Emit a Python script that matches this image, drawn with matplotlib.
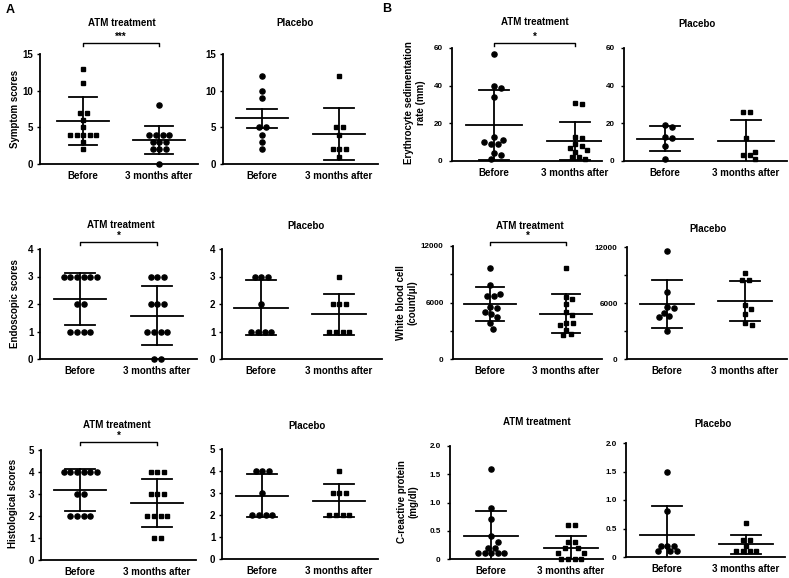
"""ATM treatment vs placebo: clinical scores (A) and lab values (B), Prism-style scatter."""
import math

import matplotlib

matplotlib.use("Agg")
import matplotlib.pyplot as plt  # noqa: E402

W, H = 789, 578
GROUPS = ["Before", "3 months after"]

# --- values -------------------------------------------------------------
SYMPTOM_ATM_BEFORE = [13, 11, 7, 7, 6, 5, 4, 4, 4, 4, 4, 3, 2]
SYMPTOM_ATM_AFTER = [8, 4, 4, 4, 4, 3, 3, 3, 2, 2, 2, 0]
SYMPTOM_ATM_MEAN = [5.86, 3.29]
SYMPTOM_ATM_ERR = [3.30, 1.94]
SYMPTOM_PLA_BEFORE = [12, 10, 9, 5, 5, 4, 3, 2]
SYMPTOM_PLA_AFTER = [12, 5, 5, 4, 2, 2, 2, 1]
SYMPTOM_PLA_MEAN = [6.23, 4.10]
SYMPTOM_PLA_ERR = [1.30, 3.50]

ENDO_ATM_BEFORE = [3, 3, 3, 3, 3, 3, 2, 2, 1, 1, 1, 1]
ENDO_ATM_AFTER = [3, 3, 3, 2, 2, 2, 1, 1, 1, 1, 0, 0]
ENDO_ATM_MEAN = [2.17, 1.58]
ENDO_ATM_ERR = [0.94, 1.07]
ENDO_PLA_BEFORE = [3, 3, 3, 2, 1, 1, 1, 1]
ENDO_PLA_AFTER = [3, 2, 2, 2, 1, 1, 1, 1]
ENDO_PLA_MEAN = [1.87, 1.62]
ENDO_PLA_ERR = [0.99, 0.75]

HISTO_ATM_BEFORE = [4, 4, 4, 4, 4, 4, 3, 3, 2, 2, 2, 2]
HISTO_ATM_AFTER = [4, 4, 4, 3, 3, 3, 2, 2, 2, 2, 1, 1]
HISTO_ATM_MEAN = [3.18, 2.58]
HISTO_ATM_ERR = [0.94, 1.08]
HISTO_PLA_BEFORE = [4, 4, 4, 3, 2, 2, 2, 2]
HISTO_PLA_AFTER = [4, 3, 3, 3, 2, 2, 2, 2]
HISTO_PLA_MEAN = [2.88, 2.64]
HISTO_PLA_ERR = [0.98, 0.75]

ESR_ATM_BEFORE = [57, 40, 39, 34, 13, 11, 10, 9, 9, 4, 3, 1]
ESR_ATM_AFTER = [31, 30, 13, 12, 9, 8, 7, 6, 5, 2, 2, 1]
ESR_ATM_MEAN = [19.1, 10.6]
ESR_ATM_ERR = [18.5, 10.0]
ESR_PLA_BEFORE = [19, 18, 13, 12, 8, 1]
ESR_PLA_AFTER = [26, 26, 12, 5, 3, 3, 1]
ESR_PLA_MEAN = [11.9, 10.8]
ESR_PLA_ERR = [6.7, 11.2]

WBC_ATM_BEFORE = [9700, 7900, 6900, 6700, 6700, 5490, 5380, 5030, 4780, 4500, 3790, 3190]
WBC_ATM_AFTER = [9700, 6550, 6340, 5840, 5030, 4670, 3860, 3790, 3600, 3080, 2650, 2510]
WBC_ATM_MEAN = [5876, 4810]
WBC_ATM_ERR = [1820, 2055]
WBC_PLA_BEFORE = [11600, 7200, 5540, 5430, 4970, 4620, 4470, 3050]
WBC_PLA_AFTER = [9230, 8450, 8450, 5790, 5400, 4830, 3830, 3660]
WBC_PLA_MEAN = [5860, 6210]
WBC_PLA_ERR = [2590, 2185]

CRP_ATM_BEFORE = [1.6, 0.9, 0.7, 0.4, 0.3, 0.2, 0.2, 0.1, 0.1, 0.1, 0.1, 0.1]
CRP_ATM_AFTER = [0.6, 0.6, 0.3, 0.3, 0.2, 0.2, 0.1, 0.1, 0, 0, 0, 0]
CRP_ATM_MEAN = [0.40, 0.20]
CRP_ATM_ERR = [0.45, 0.21]
CRP_PLA_BEFORE = [1.5, 0.8, 0.2, 0.2, 0.2, 0.1, 0.1, 0.1]
CRP_PLA_AFTER = [0.6, 0.3, 0.3, 0.2, 0.1, 0.1, 0.1, 0.1]
CRP_PLA_MEAN = [0.39, 0.22]
CRP_PLA_ERR = [0.50, 0.17]

# y ticks per measure
SYMPTOM_TICKS = [0, 5, 10, 15]
ENDO_TICKS = [0, 1, 2, 3, 4]
HISTO_TICKS = [0, 1, 2, 3, 4, 5]
ESR_TICKS = [0, 20, 40, 60]
WBC_TICKS = [0, 6000, 12000]
WBC_MINOR = [3000, 9000]
CRP_TICKS = [0, 0.5, 1.0, 1.5, 2.0]
CRP_TICKLABELS = ["0", "0.5", "1.0", "1.5", "2.0"]

# Pixel geometry of each panel: left, x(Before), x(after), right, top, bottom
LAYOUT = {
    "sym_atm": (40, 83, 159, 198, 54, 164),
    "sym_pla": (223, 262, 339, 378, 54, 164),
    "endo_atm": (40, 80, 157, 197, 249, 359),
    "endo_pla": (222, 261, 339, 382, 249, 359),
    "histo_atm": (41, 80, 157, 196, 450, 560),
    "histo_pla": (222, 262, 339, 378, 449, 559),
    "esr_atm": (452, 494, 575, 602, 48, 161),
    "esr_pla": (624, 665, 746, 787, 48, 161),
    "wbc_atm": (453, 490, 566, 602, 246, 359),
    "wbc_pla": (627, 667, 745, 787, 247, 359),
    "crp_atm": (450, 491, 571, 603, 446, 559),
    "crp_pla": (626, 667, 746, 785, 443, 557),
}

LW = 1.3
MEAN_HW = 0.34   # half width of mean bar (category units)
CAP_HW = 0.19    # half width of SD caps
GAP = 6.3        # min centre distance between markers, px


def fxy(x, y):
    return x / W, 1 - y / H


def swarm(values, px_per_unit, gap=GAP):
    """Pixel x-offsets: ties mirrored around the centre, Prism-like."""
    uniq = sorted(set(values), key=lambda v: (-values.count(v), -v))
    placed, out = [], [0.0] * len(values)
    grid = [i * 0.5 for i in range(0, 200)]

    def free(x, y):
        return all(math.hypot(x - px, y - py) >= gap for px, py in placed)

    for v in uniq:
        idx = [i for i, w in enumerate(values) if w == v]
        y = v * px_per_unit
        xs = []
        if len(idx) % 2:
            for g in grid:
                x = next((c for c in (g, -g) if free(c, y)), None)
                if x is not None:
                    break
            xs.append(x)
            placed.append((x, y))
        while len(xs) < len(idx):
            for g in grid:
                if 2 * g >= gap and free(g, y) and free(-g, y):
                    break
            xs += [-g, g]
            placed += [(-g, y), (g, y)]
        for i, x in zip(idx, xs):
            out[i] = x
    return out


def panel(fig, key, before, after, mean, err, markers, ticks, tick_fs, tick_pad,
          ticklabels=None, minor=None):
    left, xb, xa, right, top, bottom = LAYOUT[key]
    unit = xa - xb
    ax = fig.add_axes([left / W, 1 - bottom / H, (right - left) / W, (bottom - top) / H])
    ymax = ticks[-1]
    ax.set_xlim((left - xb) / unit, (right - xb) / unit)
    ax.set_ylim(0, ymax)
    ypx = (bottom - top) / ymax

    for pos, vals, mk in zip((0, 1), (before, after), markers):
        offs = swarm(vals, ypx)
        ax.plot([pos + o / unit for o in offs], vals, ls="none", marker=mk,
                ms=3.7 if mk == "o" else 3.4, color="black", mec="black",
                clip_on=False, zorder=3)
    for pos, m, e in zip((0, 1), mean, err):
        ax.plot([pos - MEAN_HW, pos + MEAN_HW], [m, m], color="black", lw=LW, zorder=4)
        ax.plot([pos, pos], [m - e, m + e], color="black", lw=LW, zorder=4)
        for c in (m - e, m + e):
            ax.plot([pos - CAP_HW, pos + CAP_HW], [c, c], color="black", lw=LW, zorder=4)

    for side in ("top", "right"):
        ax.spines[side].set_visible(False)
    for side in ("left", "bottom"):
        ax.spines[side].set_linewidth(LW)
    ax.set_xticks([0, 1], GROUPS, fontsize=7, fontweight="bold")
    ax.tick_params(axis="x", length=0, pad=5)
    ax.set_yticks(ticks, ticklabels if ticklabels else [f"{t:g}" for t in ticks],
                  fontsize=tick_fs, fontweight="bold")
    if minor:
        ax.set_yticks(minor, minor=True)
    ax.tick_params(axis="y", which="both", length=2.2, width=1.0, pad=tick_pad)
    ax.patch.set_alpha(0)
    return ax


def bracket(ax, key, y_px, stars):
    """Significance bracket between the two groups, y given in figure pixels."""
    _, _, _, _, top, bottom = LAYOUT[key]
    h = bottom - top
    yf = (bottom - y_px) / h
    tr = ax.get_xaxis_transform()
    ax.plot([0, 0, 1, 1], [yf - 3 / h, yf, yf, yf - 3 / h], color="black", lw=1.0,
            transform=tr, clip_on=False)
    ax.text(0.5, yf + 1 / h, stars, transform=tr, ha="center", va="bottom",
            fontsize=7, fontweight="bold")


def main():
    plt.rcParams.update({
        "font.family": ["Liberation Sans", "DejaVu Sans"],
        "font.weight": "bold",
    })
    fig = plt.figure(figsize=(W / 100, H / 100), dpi=100)

    a_tick, a_pad = 7, 2.5
    b_tick, b_pad = 5.8, 4.5

    ax = panel(fig, "sym_atm", SYMPTOM_ATM_BEFORE, SYMPTOM_ATM_AFTER, SYMPTOM_ATM_MEAN,
               SYMPTOM_ATM_ERR, ("s", "o"), SYMPTOM_TICKS, a_tick, a_pad)
    bracket(ax, "sym_atm", 43, "***")
    panel(fig, "sym_pla", SYMPTOM_PLA_BEFORE, SYMPTOM_PLA_AFTER, SYMPTOM_PLA_MEAN,
          SYMPTOM_PLA_ERR, ("o", "s"), SYMPTOM_TICKS, a_tick, a_pad)
    ax = panel(fig, "endo_atm", ENDO_ATM_BEFORE, ENDO_ATM_AFTER, ENDO_ATM_MEAN,
               ENDO_ATM_ERR, ("o", "o"), ENDO_TICKS, a_tick, a_pad)
    bracket(ax, "endo_atm", 242, "*")
    panel(fig, "endo_pla", ENDO_PLA_BEFORE, ENDO_PLA_AFTER, ENDO_PLA_MEAN,
          ENDO_PLA_ERR, ("o", "s"), ENDO_TICKS, a_tick, a_pad)
    ax = panel(fig, "histo_atm", HISTO_ATM_BEFORE, HISTO_ATM_AFTER, HISTO_ATM_MEAN,
               HISTO_ATM_ERR, ("o", "s"), HISTO_TICKS, a_tick, a_pad)
    bracket(ax, "histo_atm", 442, "*")
    panel(fig, "histo_pla", HISTO_PLA_BEFORE, HISTO_PLA_AFTER, HISTO_PLA_MEAN,
          HISTO_PLA_ERR, ("o", "s"), HISTO_TICKS, a_tick, a_pad)

    ax = panel(fig, "esr_atm", ESR_ATM_BEFORE, ESR_ATM_AFTER, ESR_ATM_MEAN,
               ESR_ATM_ERR, ("o", "s"), ESR_TICKS, b_tick, b_pad)
    bracket(ax, "esr_atm", 43, "*")
    panel(fig, "esr_pla", ESR_PLA_BEFORE, ESR_PLA_AFTER, ESR_PLA_MEAN,
          ESR_PLA_ERR, ("o", "s"), ESR_TICKS, b_tick, b_pad)
    ax = panel(fig, "wbc_atm", WBC_ATM_BEFORE, WBC_ATM_AFTER, WBC_ATM_MEAN,
               WBC_ATM_ERR, ("o", "s"), WBC_TICKS, b_tick, b_pad, minor=WBC_MINOR)
    bracket(ax, "wbc_atm", 242, "*")
    panel(fig, "wbc_pla", WBC_PLA_BEFORE, WBC_PLA_AFTER, WBC_PLA_MEAN,
          WBC_PLA_ERR, ("o", "s"), WBC_TICKS, b_tick, b_pad, minor=WBC_MINOR)
    panel(fig, "crp_atm", CRP_ATM_BEFORE, CRP_ATM_AFTER, CRP_ATM_MEAN,
          CRP_ATM_ERR, ("o", "s"), CRP_TICKS, b_tick, b_pad, ticklabels=CRP_TICKLABELS)
    panel(fig, "crp_pla", CRP_PLA_BEFORE, CRP_PLA_AFTER, CRP_PLA_MEAN,
          CRP_PLA_ERR, ("o", "s"), CRP_TICKS, b_tick, b_pad, ticklabels=CRP_TICKLABELS)

    titles = [
        ("ATM treatment", 122, 23), ("Placebo", 295, 23),
        ("ATM treatment", 535, 22), ("Placebo", 697, 24),
        ("ATM treatment", 121, 225), ("Placebo", 306, 226),
        ("ATM treatment", 530, 226), ("Placebo", 708, 229),
        ("ATM treatment", 117, 425), ("Placebo", 307, 426),
        ("ATM treatment", 537, 422), ("Placebo", 713, 424),
    ]
    for text, x, y in titles:
        fig.text(*fxy(x, y), text, ha="center", va="center", fontsize=7, fontweight="bold")

    ylabels = [
        ("Symptom scores", 15, 109),
        ("Endoscopic scores", 15, 304),
        ("Histological scores", 13, 503),
        ("Erythrocyte sedimentation\nrate (mm)", 415, 103),
        ("White blood cell\n(count/\u03bcl)", 407, 303),
        ("C-reactive protein\n(mg/dl)", 408, 502),
    ]
    for text, x, y in ylabels:
        fig.text(*fxy(x, y), text, ha="center", va="center", rotation=90,
                 fontsize=7, fontweight="bold", multialignment="center", linespacing=1.15)

    fig.text(*fxy(10, 10), "A", ha="center", va="center", fontsize=9, fontweight="bold")
    fig.text(*fxy(387, 9), "B", ha="center", va="center", fontsize=9, fontweight="bold")

    fig.savefig("out.png", dpi=100, facecolor="white")


if __name__ == "__main__":
    main()
